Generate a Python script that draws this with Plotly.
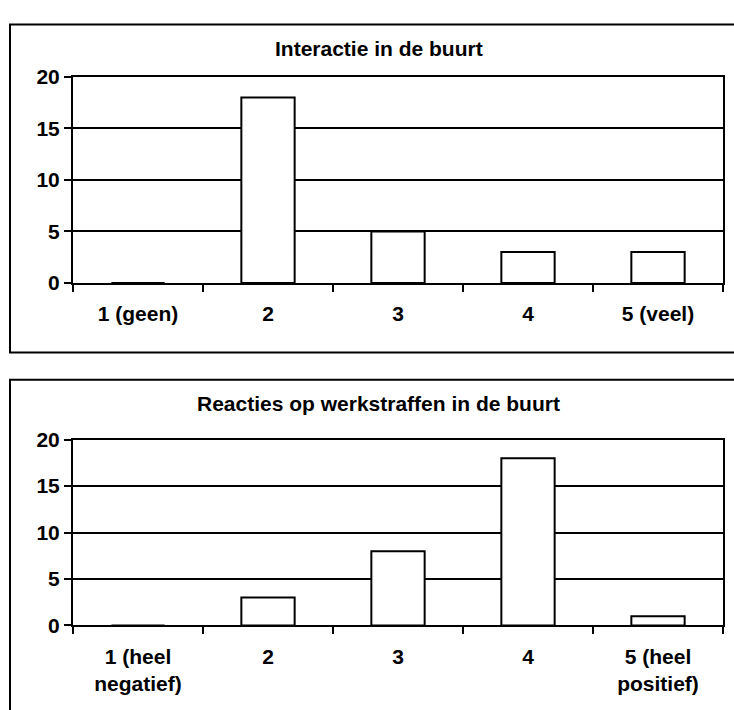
import plotly.graph_objects as go

# Data
cats_top = ["1 (geen)", "2", "3", "4", "5 (veel)"]
vals_top = [0, 18, 5, 3, 3]
title_top = "Interactie in de buurt"

cats_bot = ["1 (heel<br>negatief)", "2", "3", "4", "5 (heel<br>positief)"]
vals_bot = [0, 3, 8, 18, 1]
title_bot = "Reacties op werkstraffen in de buurt"

y_ticks = [0, 5, 10, 15, 20]

W, H = 734, 710
FONT = dict(family="Liberation Sans, Arial, sans-serif", size=21, color="black", weight="bold")

fig = go.Figure()
fig.add_trace(go.Bar(x=cats_top, y=vals_top, xaxis="x", yaxis="y",
                     marker=dict(color="white", line=dict(color="black", width=2)),
                     showlegend=False))
fig.add_trace(go.Bar(x=cats_bot, y=vals_bot, xaxis="x2", yaxis="y2",
                     marker=dict(color="white", line=dict(color="black", width=2)),
                     showlegend=False))

def px_x(v):
    return v / W

def px_y(v):
    return 1 - v / H

xdom = [px_x(73), px_x(723)]
xcommon = dict(type="category", showline=True, linecolor="black", linewidth=2,
               mirror=True, ticks="outside", ticklen=7, tickwidth=2, tickcolor="black",
               tickson="boundaries", tickfont=FONT, showgrid=False, zeroline=False,
               domain=xdom, fixedrange=True, ticklabelstandoff=11)
ycommon = dict(range=[0, 20], tickvals=y_ticks, showline=True, linecolor="black",
               linewidth=2, mirror=True, ticks="outside", ticklen=7, tickwidth=2,
               tickcolor="black", showgrid=True, gridcolor="black", gridwidth=2,
               zeroline=False, tickfont=FONT, fixedrange=True)

fig.update_layout(
    width=W, height=H,
    margin=dict(l=0, r=0, t=0, b=0),
    paper_bgcolor="white", plot_bgcolor="white",
    bargap=0.59,
    hovermode=False,
    xaxis=dict(**xcommon, anchor="y"),
    yaxis=dict(**ycommon, domain=[px_y(280), px_y(67)], anchor="x"),
    xaxis2=dict(**xcommon, anchor="y2"),
    yaxis2=dict(**ycommon, domain=[px_y(634), px_y(442)], anchor="x2"),
    shapes=[
        dict(type="rect", xref="paper", yref="paper",
             x0=px_x(10), x1=px_x(760), y0=px_y(352), y1=px_y(13),
             line=dict(color="black", width=2), fillcolor="rgba(0,0,0,0)", layer="below"),
        dict(type="rect", xref="paper", yref="paper",
             x0=px_x(10), x1=px_x(760), y0=px_y(740), y1=px_y(380),
             line=dict(color="black", width=2), fillcolor="rgba(0,0,0,0)", layer="below"),
    ],
    annotations=[
        dict(text=title_top, xref="paper", yref="paper", x=px_x(379), y=px_y(38),
             xanchor="center", yanchor="middle", showarrow=False, font=FONT),
        dict(text=title_bot, xref="paper", yref="paper", x=px_x(378), y=px_y(405),
             xanchor="center", yanchor="middle", showarrow=False, font=FONT),
    ],
)

fig.write_html("out.html",
               config={"displayModeBar": False},
               post_script="document.body.style.margin='0';document.body.style.overflow='hidden';")
